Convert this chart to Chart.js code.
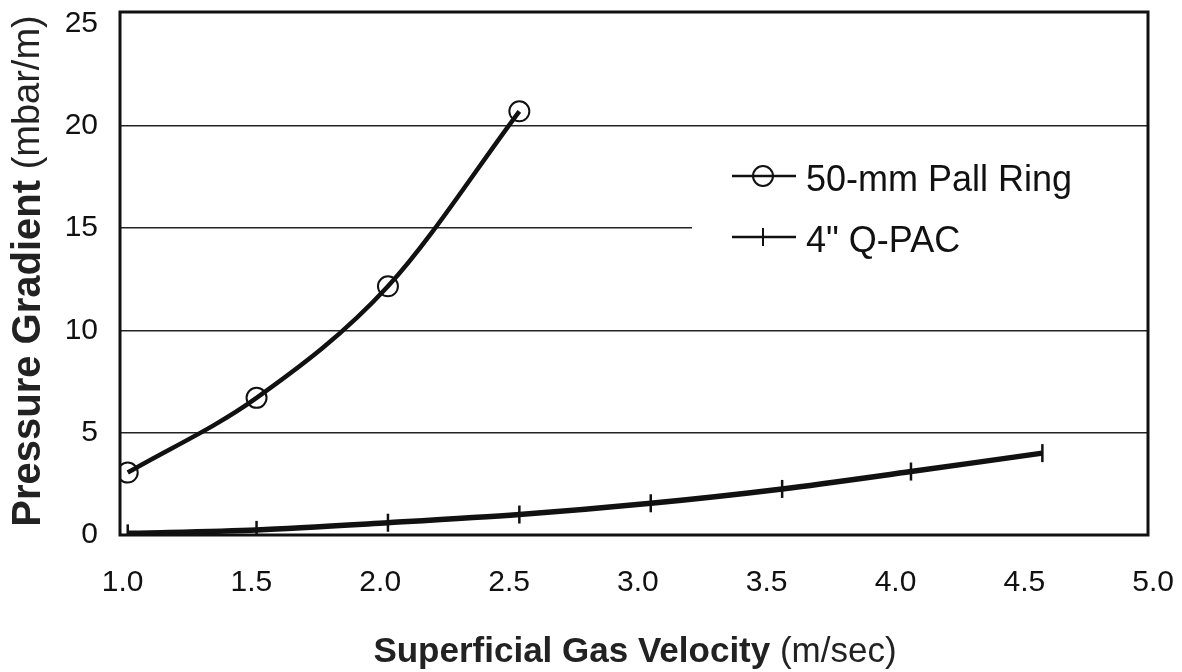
<!DOCTYPE html>
<html>
<head>
<meta charset="utf-8">
<script src="https://cdn.jsdelivr.net/npm/chart.js@4/dist/chart.umd.min.js"></script>
<style>
  html, body { margin: 0; padding: 0; background: #fff; }
  #wrap { width: 1182px; height: 672px; }
</style>
</head>
<body>
<div id="wrap"><canvas id="myChart" width="1182" height="672"></canvas></div>
<script>
// values
const pallVelocity = [1.02, 1.52, 2.03, 2.54];
const pallGradient = [3.05, 6.7, 12.15, 20.7];
const qpacVelocity = [1.02, 1.52, 2.03, 2.54, 3.05, 3.56, 4.06, 4.57];
const qpacGradient = [0.08, 0.25, 0.6, 1.0, 1.55, 2.25, 3.1, 4.0];
const seriesLabels = ["50-mm Pall Ring", '4" Q-PAC'];
const xTicks = [1.0, 1.5, 2.0, 2.5, 3.0, 3.5, 4.0, 4.5, 5.0];
const yTicks = [0, 5, 10, 15, 20, 25];
const xTitle = ["Superficial Gas Velocity", " (m/sec)"];
const yTitle = ["Pressure Gradient", " (mbar/m)"];

const FONT = "'Liberation Sans', Arial, sans-serif";
const INK = "#111";

function toPoints(xs, ys) {
  return xs.map((x, i) => ({ x: x, y: ys[i] }));
}

// frame, titles and the boxed legend
const extras = {
  id: "extras",
  afterDatasetsDraw(chart) {
    const ctx = chart.ctx;
    const a = chart.chartArea;
    ctx.save();

    // legend box (hides the gridline behind it)
    ctx.fillStyle = "#fff";
    ctx.fillRect(692, 140, a.right - 692, 130);
    const rows = [176, 237];
    chart.data.datasets.forEach((ds, i) => {
      const y = rows[i];
      ctx.strokeStyle = INK;
      ctx.lineWidth = 2.5;
      ctx.beginPath();
      ctx.moveTo(732, y);
      ctx.lineTo(796, y);
      ctx.stroke();
      ctx.lineWidth = 2;
      ctx.beginPath();
      if (ds.pointStyle === "circle") {
        ctx.arc(763, y, 10, 0, Math.PI * 2);
      } else {
        ctx.moveTo(763, y - 9);
        ctx.lineTo(763, y + 9);
      }
      ctx.stroke();
      ctx.fillStyle = INK;
      ctx.font = "36px " + FONT;
      ctx.textBaseline = "middle";
      ctx.textAlign = "left";
      ctx.fillText(ds.label, 806, y + 5);
    });

    // plot frame
    ctx.strokeStyle = INK;
    ctx.lineWidth = 3;
    ctx.strokeRect(a.left, a.top, a.right - a.left, a.bottom - a.top);

    // x title, bold part + plain part
    ctx.fillStyle = "#222";
    ctx.textBaseline = "middle";
    ctx.textAlign = "left";
    ctx.font = "bold 35px " + FONT;
    const xb = ctx.measureText(xTitle[0]).width;
    ctx.font = "35px " + FONT;
    const xn = ctx.measureText(xTitle[1]).width;
    let x0 = 635 - (xb + xn) / 2;
    ctx.font = "bold 35px " + FONT;
    ctx.fillText(xTitle[0], x0, 652);
    ctx.font = "35px " + FONT;
    ctx.fillText(xTitle[1], x0 + xb, 652);

    // y title, rotated
    ctx.translate(29, 271);
    ctx.rotate(-Math.PI / 2);
    ctx.font = "bold 40px " + FONT;
    const yb = ctx.measureText(yTitle[0]).width;
    ctx.font = "38px " + FONT;
    const yn = ctx.measureText(yTitle[1]).width;
    let y0 = -(yb + yn) / 2;
    ctx.font = "bold 40px " + FONT;
    ctx.fillText(yTitle[0], y0, 0);
    ctx.font = "38px " + FONT;
    ctx.fillText(yTitle[1], y0 + yb, 0);
    ctx.restore();
  }
};

const ctx = document.getElementById("myChart").getContext("2d");
const myChart = new Chart(ctx, {
  type: "line",
  data: {
    datasets: [
      {
        label: seriesLabels[0],
        data: toPoints(pallVelocity, pallGradient),
        borderColor: INK,
        borderWidth: 4.5,
        cubicInterpolationMode: "monotone",
        pointStyle: "circle",
        pointRadius: 10,
        pointBorderWidth: 2,
        pointBackgroundColor: "rgba(0,0,0,0)",
        pointBorderColor: INK,
        fill: false,
      },
      {
        label: seriesLabels[1],
        data: toPoints(qpacVelocity, qpacGradient),
        borderColor: INK,
        borderWidth: 5.5,
        tension: 0.3,
        pointStyle: "line",
        pointRotation: 90,
        pointRadius: 9,
        pointBorderWidth: 2.5,
        pointBorderColor: INK,
        fill: false,
      },
    ],
  },
  options: {
    responsive: false,
    animation: false,
    layout: { padding: { top: 8, right: 34, left: 0, bottom: 0 } },
    plugins: {
      legend: { display: false },
      tooltip: { enabled: false },
    },
    scales: {
      x: {
        type: "linear",
        min: 0.99,
        max: 4.98,
        afterBuildTicks: (scale) => {
          scale.ticks = xTicks.map((v) => ({ value: v }));
        },
        afterFit: (scale) => {
          scale.height = 137;
          scale.paddingLeft = 0;
          scale.paddingRight = 0;
        },
        grid: { display: false, drawTicks: false },
        border: { display: false },
        ticks: {
          padding: 30,
          color: INK,
          font: { family: FONT, size: 30 },
          maxRotation: 0,
          autoSkip: false,
          callback: (v) => Number(v).toFixed(1),
        },
      },
      y: {
        min: 0,
        max: 25.55,
        afterBuildTicks: (scale) => {
          scale.ticks = yTicks.map((v) => ({ value: v }));
        },
        afterFit: (scale) => {
          scale.width = 120;
          scale.paddingTop = 0;
          scale.paddingBottom = 0;
        },
        grid: {
          drawTicks: false,
          lineWidth: 1.5,
          color: (c) => (c.tick && (c.tick.value === 0 || c.tick.value === 25) ? "rgba(0,0,0,0)" : "#222"),
        },
        border: { display: false },
        ticks: {
          padding: 22,
          color: INK,
          font: { family: FONT, size: 30 },
          autoSkip: false,
        },
      },
    },
  },
  plugins: [extras],
});
</script>
</body>
</html>
